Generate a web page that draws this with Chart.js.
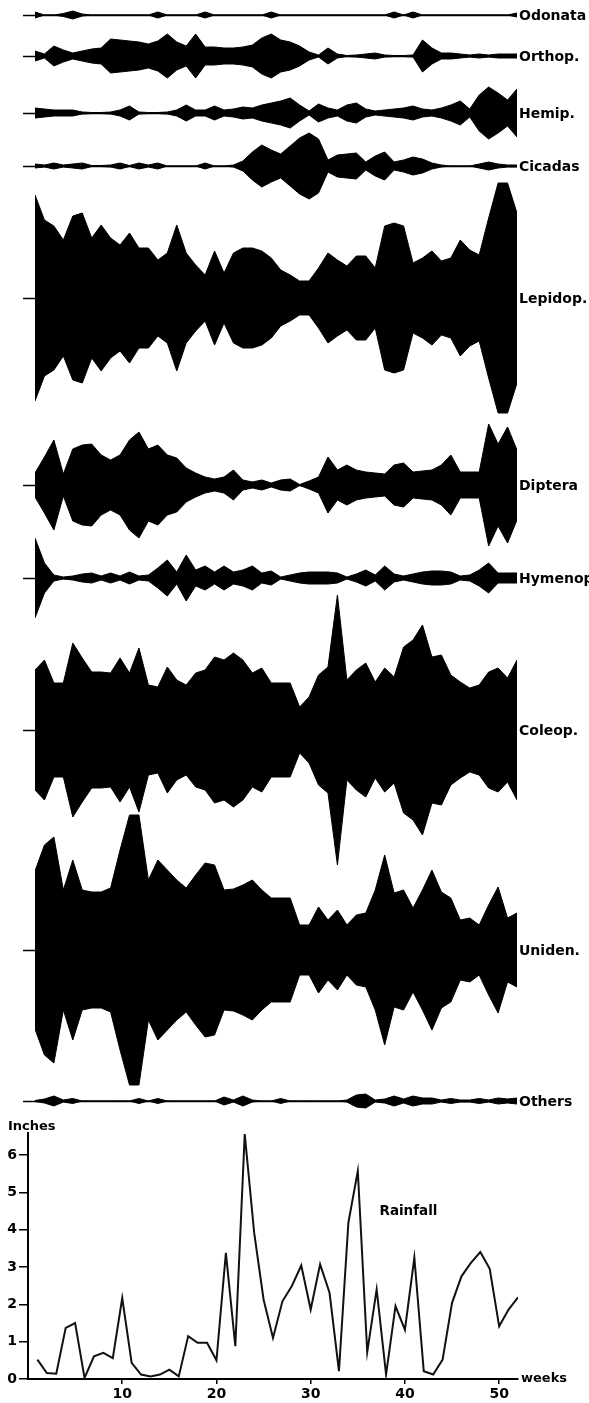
<!DOCTYPE html>
<html>
<head>
<meta charset="utf-8">
<title>Weekly insect catches and rainfall</title>
<script src="https://cdn.jsdelivr.net/npm/chart.js@4.4.1/dist/chart.umd.min.js"></script>
<style>
  html, body { margin: 0; padding: 0; background: #fff; }
  body { width: 589px; height: 1403px; position: relative; overflow: hidden; }
  canvas { position: absolute; left: 0; display: block; }
  #kites { top: 0; }
  #rain { top: 1115px; }
</style>
</head>
<body>
<canvas id="kites" width="589" height="1120"></canvas>
<canvas id="rain" width="589" height="288"></canvas>
<script>
// Weeks of the year
const weeks = [
  1, 2, 3, 4, 5, 6, 7, 8, 9, 10,
  11, 12, 13, 14, 15, 16, 17, 18, 19, 20,
  21, 22, 23, 24, 25, 26, 27, 28, 29, 30,
  31, 32, 33, 34, 35, 36, 37, 38, 39, 40,
  41, 42, 43, 44, 45, 46, 47, 48, 49, 50,
  51, 52
];

// Kite half-widths per week (kite scale units), one array per insect group
const odonata = [
  3, 0, 0, 1.5, 4, 1, 0, 0, 0, 0,
  0, 0, 0, 3, 0, 0, 0, 0, 3, 0,
  0, 0, 0, 0, 0, 3, 0, 0, 0, 0,
  0, 0, 0, 0, 0, 0, 0, 0, 3, 0,
  3, 0, 0, 0, 0, 0, 0, 0, 0, 0,
  0, 2
];
const orthop = [
  5, 2, 10, 6, 3, 5, 7, 8, 17, 16,
  15, 14, 12, 15, 22, 14, 10, 22, 9, 9,
  8, 8, 9, 11, 18, 22, 16, 14, 10, 4,
  1, 8, 2, 0.5, 1, 2, 3, 1, 0.5, 0.5,
  1, 16, 8, 3, 3, 2, 1, 2, 1, 2,
  2, 2
];
const hemip = [
  5, 4, 3, 3, 3, 1, 0.5, 0.5, 1, 3,
  7, 1, 0.5, 0.5, 1, 3, 8, 3, 3, 7,
  3, 4, 6, 5, 8, 10, 12, 15, 8, 2,
  9, 5, 3, 8, 10, 4, 2, 3, 4, 5,
  7, 4, 3, 5, 8, 12, 4, 18, 26, 20,
  13, 24
];
const cicadas = [
  2, 1, 3, 1, 2, 3, 0.5, 0.5, 1, 3,
  0.5, 3, 1, 3, 0, 0, 0, 0, 3, 0,
  0, 1, 5, 14, 21, 16, 12, 20, 28, 33,
  27, 6, 11, 12, 13, 4, 10, 14, 4, 6,
  9, 7, 3, 1, 0, 0, 0, 2, 4, 2,
  1, 1
];
const lepidop = [
  103, 78, 72, 58, 82, 85, 60, 73, 60, 53,
  65, 50, 50, 38, 45, 73, 45, 33, 23, 47,
  25, 45, 50, 50, 47, 40, 28, 23, 17, 17,
  30, 45, 38, 32, 42, 42, 30, 72, 75, 72,
  35, 40, 47, 37, 40, 58, 48, 43, 80, 115,
  115, 85
];
const diptera = [
  12, 28, 45, 11, 36, 40, 41, 30, 25, 30,
  45, 53, 36, 40, 30, 27, 17, 12, 8, 6,
  8, 15, 5, 3, 5, 2, 5, 6, 0.5, 4,
  8, 28, 15, 20, 15, 13, 12, 11, 20, 22,
  13, 14, 15, 20, 30, 13, 13, 13, 61, 41,
  58, 35
];
const hymenop = [
  40, 15, 3, 1, 2, 4, 5, 2, 5, 2,
  6, 2, 3, 10, 18, 6, 23, 8, 12, 6,
  12, 6, 8, 12, 5, 7, 1, 3, 5, 6,
  6, 6, 5, 1, 4, 8, 3, 12, 4, 2,
  4, 6, 7, 7, 6, 2, 3, 8, 15, 5,
  5, 5
];
const coleop = [
  60, 70, 47, 47, 87, 72, 58, 58, 57, 72,
  57, 82, 45, 43, 63, 50, 45, 57, 60, 73,
  70, 77, 70, 57, 62, 47, 47, 47, 23, 33,
  55, 63, 135, 50, 60, 67, 48, 62, 53, 83,
  90, 105, 73, 75, 55, 48, 42, 45, 58, 62,
  52, 70
];
const uniden = [
  79, 105, 113, 60, 90, 60, 58, 58, 62, 100,
  135, 135, 70, 90, 80, 70, 62, 75, 87, 85,
  60, 61, 65, 70, 60, 52, 52, 52, 25, 25,
  43, 30, 40, 25, 35, 37, 60, 95, 57, 60,
  42, 60, 80, 58, 52, 30, 32, 25, 45, 63,
  32, 37
];
const others = [
  0.5, 2, 5, 1, 2.5, 0, 0, 0, 0, 0,
  0, 2.5, 0, 2.5, 0, 0, 0, 0, 0, 0,
  4, 1, 5, 1, 0, 0, 2.5, 0, 0, 0,
  0, 0, 0, 1, 6, 7, 1, 2, 5, 2,
  5, 3, 3, 1, 2.5, 1, 1, 2.5, 1, 3,
  2, 3
];

// Weekly rainfall, inches
const rainfall = [
  0.52, 0.16, 0.14, 1.37, 1.50, 0.03, 0.61, 0.70, 0.56, 2.17,
  0.43, 0.12, 0.07, 0.12, 0.25, 0.07, 1.15, 0.97, 0.97, 0.50,
  3.38, 0.88, 6.56, 3.92, 2.13, 1.10, 2.08, 2.49, 3.04, 1.86,
  3.07, 2.31, 0.21, 4.19, 5.57, 0.72, 2.40, 0.12, 1.95, 1.32,
  3.25, 0.21, 0.12, 0.52, 2.04, 2.75, 3.11, 3.40, 2.95, 1.41,
  1.86, 2.19
];
const rainTicksY = [0, 1, 2, 3, 4, 5, 6];
const rainTicksX = [10, 20, 30, 40, 50];

// Group names and series, top to bottom
const groupNames = ['Odonata', 'Orthop.', 'Hemip.', 'Cicadas', 'Lepidop.', 'Diptera', 'Hymenop.', 'Coleop.', 'Uniden.', 'Others'];
const groupSeries = [odonata, orthop, hemip, cicadas, lepidop, diptera, hymenop, coleop, uniden, others];

// Layout: centre line of each kite on the vertical kite scale
const kiteCentres = [15, 56, 113, 166, 298, 485, 578, 730, 950, 1101];

const INK = '#000';
const LABEL_FONT = 'bold 14px "DejaVu Sans", "Liberation Sans", sans-serif';

// Each kite is an upper and a lower edge, with the area between them filled
const kiteDatasets = [];
groupSeries.forEach((vals, g) => {
  const c = kiteCentres[g];
  const common = {
    borderColor: INK,
    backgroundColor: INK,
    borderWidth: 1,
    pointRadius: 0,
    pointHoverRadius: 0,
    tension: 0
  };
  kiteDatasets.push(Object.assign({
    label: groupNames[g] + ' upper',
    data: weeks.map((w, i) => ({ x: w, y: c - vals[i] })),
    fill: false
  }, common));
  kiteDatasets.push(Object.assign({
    label: groupNames[g] + ' lower',
    data: weeks.map((w, i) => ({ x: w, y: c + vals[i] })),
    fill: '-1'
  }, common));
});

// Centre lines under the kites and group names at the right end
const kiteDecor = {
  id: 'kiteDecor',
  beforeDatasetsDraw(chart) {
    const { ctx, scales: { x, y } } = chart;
    const x0 = x.getPixelForValue(weeks[0]) - 12;
    const x1 = x.getPixelForValue(weeks[weeks.length - 1]);
    ctx.save();
    ctx.strokeStyle = INK;
    ctx.lineWidth = 1.5;
    kiteCentres.forEach(c => {
      const py = Math.round(y.getPixelForValue(c)) + 0.5;
      ctx.beginPath();
      ctx.moveTo(x0, py);
      ctx.lineTo(x1, py);
      ctx.stroke();
    });
    ctx.restore();
  },
  afterDatasetsDraw(chart) {
    const { ctx, scales: { x, y } } = chart;
    const xl = x.getPixelForValue(weeks[weeks.length - 1]) + 2;
    ctx.save();
    ctx.fillStyle = INK;
    ctx.font = LABEL_FONT;
    ctx.textAlign = 'left';
    ctx.textBaseline = 'middle';
    groupNames.forEach((name, g) => {
      ctx.fillText(name, xl, y.getPixelForValue(kiteCentres[g]) + 1);
    });
    ctx.restore();
  }
};

new Chart(document.getElementById('kites'), {
  type: 'line',
  data: { datasets: kiteDatasets },
  options: {
    responsive: false,
    animation: false,
    devicePixelRatio: 1,
    events: [],
    layout: { padding: { left: 35, right: 72, top: 0, bottom: 0 } },
    plugins: { legend: { display: false }, tooltip: { enabled: false } },
    scales: {
      x: { type: 'linear', min: 1, max: 52, display: false },
      y: { type: 'linear', min: 0, max: 1120, reverse: true, display: false }
    }
  },
  plugins: [kiteDecor]
});

// Axis titles and the series name of the rainfall panel
const rainText = {
  id: 'rainText',
  afterDraw(chart) {
    const { ctx, chartArea, scales: { x, y } } = chart;
    ctx.save();
    ctx.fillStyle = INK;
    ctx.font = 'bold 13px "DejaVu Sans", "Liberation Sans", sans-serif';
    ctx.textBaseline = 'middle';
    ctx.textAlign = 'left';
    ctx.fillText('Inches', 8, chartArea.top - 6);
    ctx.fillText('weeks', chartArea.right + 3, y.getPixelForValue(0));
    ctx.font = 'bold 13.5px "DejaVu Sans", "Liberation Sans", sans-serif';
    ctx.fillText('Rainfall', x.getPixelForValue(37.3), y.getPixelForValue(4.5));
    ctx.restore();
  }
};

new Chart(document.getElementById('rain'), {
  type: 'line',
  data: {
    datasets: [{
      label: 'Rainfall',
      data: weeks.map((w, i) => ({ x: w, y: rainfall[i] })),
      borderColor: '#111',
      borderWidth: 2,
      pointRadius: 0,
      pointHoverRadius: 0,
      tension: 0,
      fill: false
    }]
  },
  options: {
    responsive: false,
    animation: false,
    devicePixelRatio: 1,
    events: [],
    layout: { padding: { left: 0, right: 71, top: 17.6, bottom: 0 } },
    plugins: { legend: { display: false }, tooltip: { enabled: false } },
    scales: {
      x: {
        type: 'linear',
        min: 0,
        max: 52,
        afterBuildTicks(scale) { scale.ticks = rainTicksX.map(v => ({ value: v })); },
        afterFit(scale) { scale.height = 24; },
        border: { display: true, color: INK, width: 2 },
        grid: { display: true, drawOnChartArea: false, drawTicks: true, tickLength: 5, color: INK, lineWidth: 1.5 },
        ticks: {
          color: INK,
          padding: 2,
          maxRotation: 0,
          autoSkip: false,
          font: { family: '"DejaVu Sans", "Liberation Sans", sans-serif', size: 14, weight: 'bold' }
        }
      },
      y: {
        type: 'linear',
        min: 0,
        max: 6.6,
        afterBuildTicks(scale) { scale.ticks = rainTicksY.map(v => ({ value: v })); },
        afterFit(scale) { scale.width = 28; },
        border: { display: true, color: INK, width: 2 },
        grid: { display: true, drawOnChartArea: false, drawTicks: true, tickLength: 9, color: INK, lineWidth: 1.5 },
        ticks: {
          color: INK,
          padding: 2,
          autoSkip: false,
          font: { family: '"DejaVu Sans", "Liberation Sans", sans-serif', size: 14, weight: 'bold' }
        }
      }
    }
  },
  plugins: [rainText]
});
</script>
</body>
</html>
